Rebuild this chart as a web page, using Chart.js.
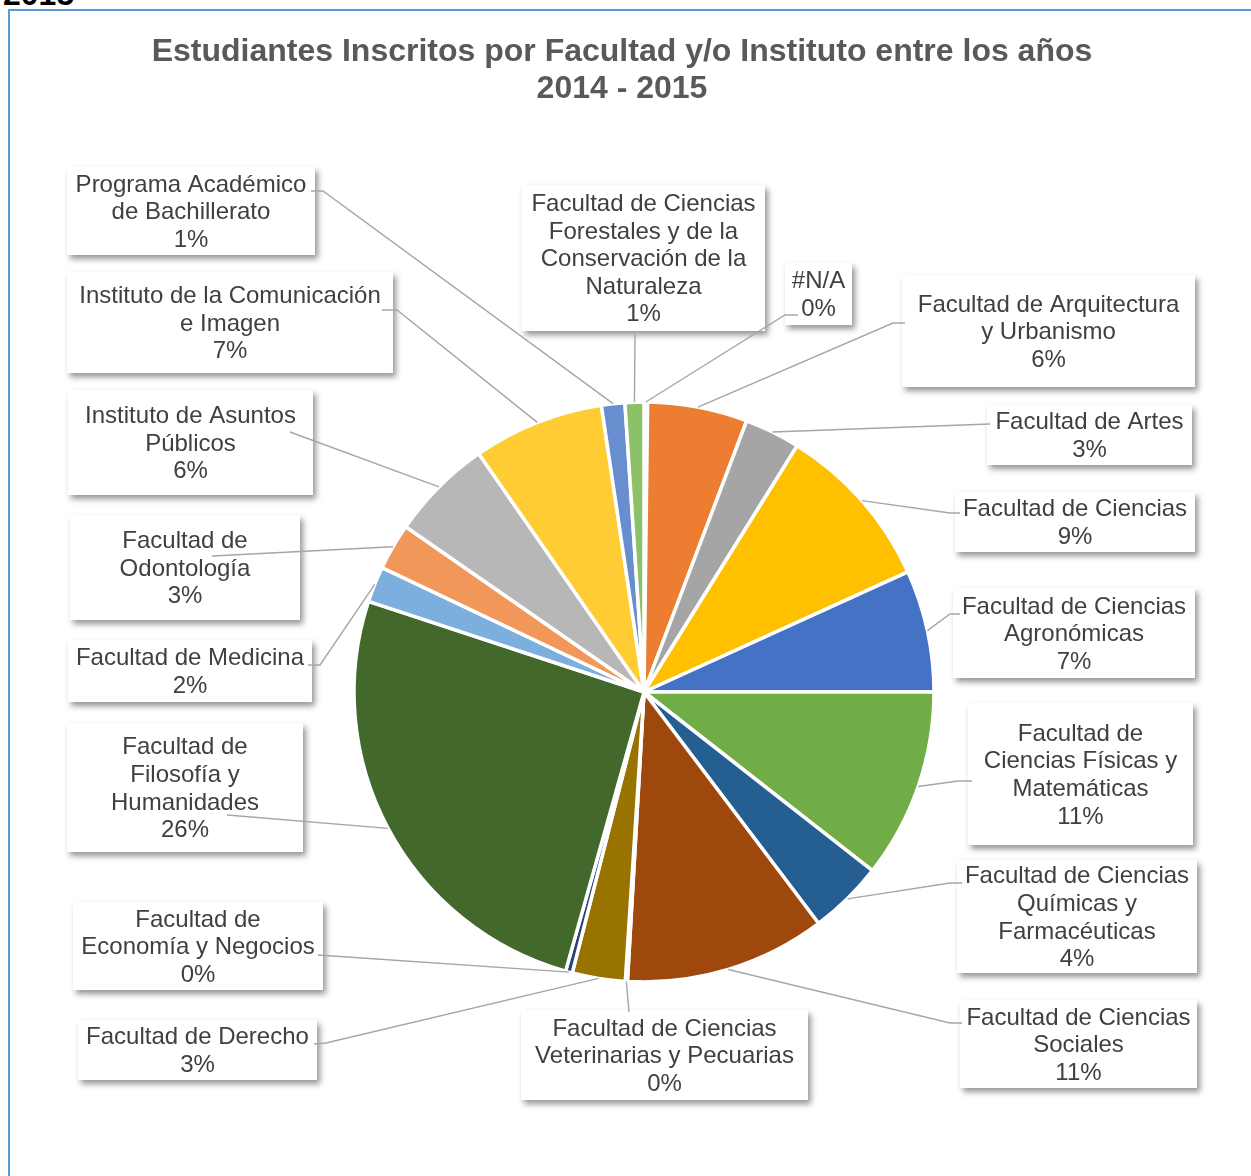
<!DOCTYPE html>
<html><head><meta charset="utf-8">
<script src="https://cdn.jsdelivr.net/npm/chart.js@4.4.1/dist/chart.umd.min.js"></script>
<style>
html,body{margin:0;padding:0;background:#fff;width:1251px;height:1176px;overflow:hidden;position:relative;font-family:"Liberation Sans",Arial,sans-serif}
#frame{position:absolute;left:8px;top:9px;width:1400px;height:1400px;border:2px solid #5b9bd5;box-sizing:border-box}
#yr{position:absolute;left:3px;top:-22px;font:bold 32px "Liberation Sans",Arial,sans-serif;color:#000;line-height:32px}
canvas{position:absolute;left:0;top:0}
</style></head><body>
<div id="yr">2015</div>
<div id="frame"></div>
<canvas id="c" width="1251" height="1176"></canvas>
<script>
// ---- data ----
const titleLines = ['Estudiantes Inscritos por Facultad y/o Instituto entre los años', '2014 - 2015'];
const categories = [
  ['#N/A'],
  ['Facultad de Arquitectura', 'y Urbanismo'],
  ['Facultad de Artes'],
  ['Facultad de Ciencias'],
  ['Facultad de Ciencias', 'Agronómicas'],
  ['Facultad de', 'Ciencias Físicas y', 'Matemáticas'],
  ['Facultad de Ciencias', 'Químicas y', 'Farmacéuticas'],
  ['Facultad de Ciencias', 'Sociales'],
  ['Facultad de Ciencias', 'Veterinarias y Pecuarias'],
  ['Facultad de Derecho'],
  ['Facultad de', 'Economía y Negocios'],
  ['Facultad de', 'Filosofía y', 'Humanidades'],
  ['Facultad de Medicina'],
  ['Facultad de', 'Odontología'],
  ['Instituto de Asuntos', 'Públicos'],
  ['Instituto de la Comunicación', 'e Imagen'],
  ['Programa Académico', 'de Bachillerato'],
  ['Facultad de Ciencias', 'Forestales y de la', 'Conservación de la', 'Naturaleza']
];
const shares = [0.2, 5.56, 3.1, 9.35, 6.8, 10.56, 4.15, 11.2, 0.12, 2.95, 0.38, 25.7, 2.0, 2.6, 5.7, 7.3, 1.3, 1.05];
const sliceColors = ['#5B9BD5','#ED7D31','#A5A5A5','#FFC000','#4472C4','#70AD47','#255E91','#9E480E','#636363','#997300','#264478','#43682B','#7CAFDD','#F1975A','#B7B7B7','#FFCD33','#698ED0','#8CC168'];

// ---- layout of callout boxes [left, top, width, height] and leader line start points ----
const boxLayout = [
  [785,263,67,62],[902,275,293,112],[987,405,205,60],[955,492,240,60],[953,588,242,90],
  [968,703,225,142],[957,860,240,113],[960,1000,237,88],[521,1010,287,90],[78,1020,239,60],
  [73,902,250,88],[67,723,236,129],[68,640,244,62],[70,515,230,105],[68,390,245,105],
  [67,272,326,101],[67,167,248,88],[522,185,243,146]
];
const leaderLayout = [
  [[798,315],[785,315]],[[905,323],[893,323]],[[990,424]],[[960,513],[950,513]],[[960,614],[950,614]],
  [[972,781],[958,781]],[[962,883],[950,883]],[[962,1023],[950,1023]],[[629,1012]],[[314,1044],[326,1043]],
  [[318,955]],[[227,815]],[[308,665],[320,665]],[[212,556]],[[290,432]],
  [[382,310],[397,310]],[[311,191],[323,191]],[[635,333]]
];

const FONT = '"Liberation Sans", Arial, sans-serif';
const calloutPlugin = {
  id: 'callouts',
  afterDraw(chart) {
    const ctx = chart.ctx;
    const meta = chart.getDatasetMeta(0);
    const total = shares.reduce((a, b) => a + b, 0);
    ctx.save();
    // title
    ctx.fillStyle = '#595959';
    ctx.font = 'bold 32px ' + FONT;
    ctx.textAlign = 'center';
    ctx.textBaseline = 'alphabetic';
    titleLines.forEach((t, i) => ctx.fillText(t, 622, 61 + i * 37));
    // boxes with shadow
    boxLayout.forEach(b => {
      ctx.save();
      ctx.shadowColor = 'rgba(0,0,0,0.42)';
      ctx.shadowBlur = 6;
      ctx.shadowOffsetX = 3;
      ctx.shadowOffsetY = 4;
      ctx.fillStyle = '#ffffff';
      ctx.fillRect(b[0], b[1], b[2], b[3]);
      ctx.restore();
    });
    // leader lines
    ctx.strokeStyle = '#a6a6a6';
    ctx.lineWidth = 1.4;
    meta.data.forEach((arc, i) => {
      const mid = (arc.startAngle + arc.endAngle) / 2;
      const r = arc.outerRadius;
      const ax = arc.x + Math.cos(mid) * r;
      const ay = arc.y + Math.sin(mid) * r;
      const pts = leaderLayout[i];
      ctx.beginPath();
      ctx.moveTo(pts[0][0], pts[0][1]);
      for (let k = 1; k < pts.length; k++) ctx.lineTo(pts[k][0], pts[k][1]);
      ctx.lineTo(ax, ay);
      ctx.stroke();
    });
    // label text
    ctx.fillStyle = '#404040';
    ctx.font = '24px ' + FONT;
    ctx.textAlign = 'center';
    ctx.textBaseline = 'alphabetic';
    const LH = 27.6;
    categories.forEach((lines, i) => {
      const b = boxLayout[i];
      const all = lines.concat([Math.round(shares[i] / total * 100) + '%']);
      const cx = b[0] + b[2] / 2;
      const cy = b[1] + b[3] / 2;
      all.forEach((t, k) => {
        const c = cy + (k - (all.length - 1) / 2) * LH;
        ctx.fillText(t, cx, c + 8.2);
      });
    });
    ctx.restore();
  }
};

new Chart(document.getElementById('c'), {
  type: 'pie',
  data: {
    labels: categories,
    datasets: [{
      data: shares,
      backgroundColor: sliceColors,
      borderColor: '#ffffff',
      borderWidth: 3.5,
      radius: 290
    }]
  },
  options: {
    responsive: false,
    animation: false,
    devicePixelRatio: 1,
    layout: { padding: { left: 355, right: 318, top: 403, bottom: 195 } },
    plugins: { legend: { display: false }, tooltip: { enabled: false }, title: { display: false } }
  },
  plugins: [calloutPlugin]
});
</script>
</body></html>
